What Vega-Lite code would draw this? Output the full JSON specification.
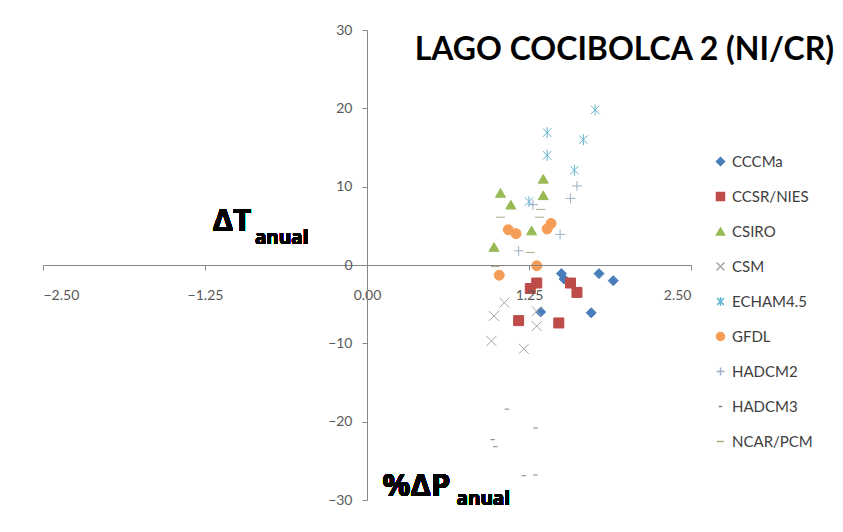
{
  "$schema": "https://vega.github.io/schema/vega-lite/v6.json",
  "autosize": {"type": "none"},
  "padding": {"left": 43, "top": 30, "right": 152, "bottom": 32},
  "width": 648,
  "height": 470,
  "background": "white",
  "config": {
    "view": {"stroke": null},
    "font": "Lato",
    "axis": {"grid": false}
  },
  "title": {
    "text": "LAGO COCIBOLCA 2 (NI/CR)",
    "anchor": "end",
    "frame": "group",
    "font": "Lato",
    "fontSize": 32,
    "fontWeight": "bold",
    "color": "#000000",
    "dx": 143,
    "dy": 48
  },
  "data": {
    "values": [
      {"model": "CCCMa", "dp": 1.50, "dt": -1.1},
      {"model": "CCCMa", "dp": 1.52, "dt": -1.8},
      {"model": "CCCMa", "dp": 1.79, "dt": -1.1},
      {"model": "CCCMa", "dp": 1.90, "dt": -2.0},
      {"model": "CCCMa", "dp": 1.34, "dt": -6.0},
      {"model": "CCCMa", "dp": 1.73, "dt": -6.1},
      {"model": "CCSR/NIES", "dp": 1.31, "dt": -2.3},
      {"model": "CCSR/NIES", "dp": 1.26, "dt": -3.0},
      {"model": "CCSR/NIES", "dp": 1.57, "dt": -2.3},
      {"model": "CCSR/NIES", "dp": 1.62, "dt": -3.5},
      {"model": "CCSR/NIES", "dp": 1.17, "dt": -7.1},
      {"model": "CCSR/NIES", "dp": 1.48, "dt": -7.4},
      {"model": "CSIRO", "dp": 1.36, "dt": 11.0},
      {"model": "CSIRO", "dp": 1.03, "dt": 9.2},
      {"model": "CSIRO", "dp": 1.36, "dt": 8.9},
      {"model": "CSIRO", "dp": 1.11, "dt": 7.7},
      {"model": "CSIRO", "dp": 1.27, "dt": 4.4},
      {"model": "CSIRO", "dp": 0.98, "dt": 2.3},
      {"model": "CSM", "dp": 1.06, "dt": -4.8},
      {"model": "CSM", "dp": 0.98, "dt": -6.5},
      {"model": "CSM", "dp": 1.31, "dt": -5.9},
      {"model": "CSM", "dp": 1.31, "dt": -7.8},
      {"model": "CSM", "dp": 0.96, "dt": -9.7},
      {"model": "CSM", "dp": 1.21, "dt": -10.7},
      {"model": "ECHAM4.5", "dp": 1.76, "dt": 19.8},
      {"model": "ECHAM4.5", "dp": 1.39, "dt": 16.9},
      {"model": "ECHAM4.5", "dp": 1.67, "dt": 16.0},
      {"model": "ECHAM4.5", "dp": 1.39, "dt": 14.0},
      {"model": "ECHAM4.5", "dp": 1.60, "dt": 12.1},
      {"model": "ECHAM4.5", "dp": 1.25, "dt": 8.1},
      {"model": "GFDL", "dp": 1.09, "dt": 4.5},
      {"model": "GFDL", "dp": 1.15, "dt": 4.0},
      {"model": "GFDL", "dp": 1.42, "dt": 5.3},
      {"model": "GFDL", "dp": 1.39, "dt": 4.6},
      {"model": "GFDL", "dp": 1.31, "dt": -0.1},
      {"model": "GFDL", "dp": 1.02, "dt": -1.3},
      {"model": "HADCM2", "dp": 1.62, "dt": 10.1},
      {"model": "HADCM2", "dp": 1.57, "dt": 8.5},
      {"model": "HADCM2", "dp": 1.49, "dt": 3.9},
      {"model": "HADCM2", "dp": 1.17, "dt": 1.8},
      {"model": "HADCM2", "dp": 1.28, "dt": 7.7},
      {"model": "HADCM3", "dp": 1.08, "dt": -18.4},
      {"model": "HADCM3", "dp": 1.30, "dt": -20.8},
      {"model": "HADCM3", "dp": 0.97, "dt": -22.3},
      {"model": "HADCM3", "dp": 0.99, "dt": -23.2},
      {"model": "HADCM3", "dp": 1.21, "dt": -26.9},
      {"model": "HADCM3", "dp": 1.30, "dt": -26.8},
      {"model": "NCAR/PCM", "dp": 1.03, "dt": 6.1},
      {"model": "NCAR/PCM", "dp": 1.33, "dt": 6.1},
      {"model": "NCAR/PCM", "dp": 1.34, "dt": 7.1},
      {"model": "NCAR/PCM", "dp": 1.26, "dt": 1.6},
      {"model": "NCAR/PCM", "dp": 0.99, "dt": -0.2}
    ]
  },
  "layer": [
    {
      "mark": {"type": "point", "size": 100, "strokeWidth": 1, "opacity": 1},
      "encoding": {
        "x": {
          "field": "dp", "type": "quantitative",
          "scale": {"domain": [-2.5, 2.5], "nice": false, "zero": false},
          "axis": {
            "title": null, "orient": "bottom", "offset": -235,
            "values": [-2.5, -1.25, 0, 1.25, 2.5], "format": ".2f",
            "domainColor": "#868686", "tickColor": "#868686", "tickSize": 5,
            "labelFontSize": 14, "labelColor": "#595959", "labelPadding": 18,
            "labelFont": "Lato", "zindex": 1
          }
        },
        "y": {
          "field": "dt", "type": "quantitative",
          "scale": {"domain": [-30, 30], "nice": false, "zero": false},
          "axis": {
            "title": null, "orient": "left", "offset": -324,
            "values": [-30, -20, -10, 0, 10, 20, 30],
            "domainColor": "#868686", "tickColor": "#868686", "tickSize": 5,
            "labelFontSize": 14, "labelColor": "#595959", "labelPadding": 10,
            "labelFont": "Lato", "zindex": 1
          }
        },
        "shape": {
          "field": "model", "type": "nominal",
          "scale": {
            "domain": ["CCCMa", "CCSR/NIES", "CSIRO", "CSM", "ECHAM4.5", "GFDL", "HADCM2", "HADCM3", "NCAR/PCM"],
            "range": ["diamond", "square", "triangle-up", "M-1,-1L1,1M-1,1L1,-1", "M0,-1.1L0,1.1M-0.85,-0.85L0.85,0.85M-0.85,0.85L0.85,-0.85", "circle", "M-1,0L1,0M0,-1L0,1", "M-0.45,0L0.45,0", "M-0.9,0L0.9,0"]
          },
          "legend": {
            "title": null, "orient": "none", "legendX": 670, "legendY": 124,
            "labelFontSize": 15, "labelColor": "#404040", "labelFont": "Lato",
            "symbolSize": 64, "rowPadding": 19, "labelOffset": 4, "padding": 0
          }
        },
        "fill": {
          "field": "model", "type": "nominal",
          "scale": {
            "domain": ["CCCMa", "CCSR/NIES", "CSIRO", "CSM", "ECHAM4.5", "GFDL", "HADCM2", "HADCM3", "NCAR/PCM"],
            "range": ["#4A7EBB", "#BE4B48", "#98B954", "transparent", "transparent", "#F59D56", "transparent", "transparent", "transparent"]
          },
          "legend": {
            "title": null, "orient": "none", "legendX": 670, "legendY": 124,
            "labelFontSize": 15, "labelColor": "#404040", "labelFont": "Lato",
            "symbolSize": 64, "rowPadding": 19, "labelOffset": 4, "padding": 0
          }
        },
        "stroke": {
          "field": "model", "type": "nominal",
          "scale": {
            "domain": ["CCCMa", "CCSR/NIES", "CSIRO", "CSM", "ECHAM4.5", "GFDL", "HADCM2", "HADCM3", "NCAR/PCM"],
            "range": ["#4A7EBB", "#BE4B48", "#98B954", "#A6A6A6", "#66B6CF", "#F59D56", "#9DB0C6", "#7F7F7F", "#A9AE8A"]
          },
          "legend": {
            "title": null, "orient": "none", "legendX": 670, "legendY": 124,
            "labelFontSize": 15, "labelColor": "#404040", "labelFont": "Lato",
            "symbolSize": 64, "rowPadding": 19, "labelOffset": 4, "padding": 0
          }
        }
      }
    },
    {
      "mark": {"type": "text", "font": "Open Sans", "fontWeight": "bold", "fontSize": 31, "align": "left", "baseline": "alphabetic", "color": "#000000"},
      "encoding": {"x": {"datum": -1.19}, "y": {"datum": 4.3}, "text": {"value": "ΔT"}}
    },
    {
      "mark": {"type": "text", "font": "Open Sans", "fontWeight": "bold", "fontSize": 19, "align": "left", "baseline": "alphabetic", "color": "#000000"},
      "encoding": {"x": {"datum": -0.865}, "y": {"datum": 2.7}, "text": {"value": "anual"}}
    },
    {
      "mark": {"type": "text", "font": "Open Sans", "fontWeight": "bold", "fontSize": 31, "align": "left", "baseline": "alphabetic", "color": "#000000"},
      "encoding": {"x": {"datum": 0.12}, "y": {"datum": -29.5}, "text": {"value": "%ΔP"}}
    },
    {
      "mark": {"type": "text", "font": "Open Sans", "fontWeight": "bold", "fontSize": 19, "align": "left", "baseline": "alphabetic", "color": "#000000"},
      "encoding": {"x": {"datum": 0.69}, "y": {"datum": -30.6}, "text": {"value": "anual"}}
    }
  ]
}
